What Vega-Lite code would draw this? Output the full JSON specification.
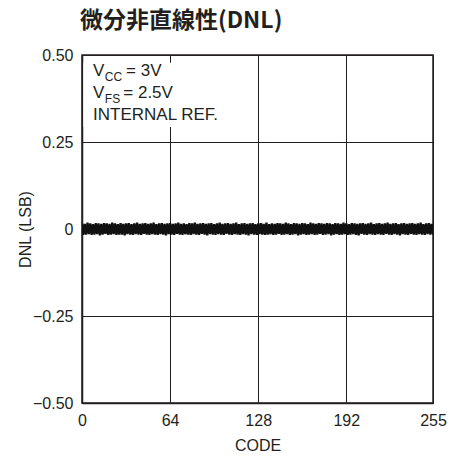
{
  "$schema": "https://vega.github.io/schema/vega-lite/v6.json",
  "autosize": "none",
  "width": 351,
  "height": 348,
  "padding": {"left": 82, "top": 55, "right": 18, "bottom": 60},
  "background": "white",
  "title": {"text": "微分非直線性(DNL)", "font": "Noto Sans CJK JP", "fontWeight": "bold", "fontSize": 23, "color": "#231f20", "anchor": "start", "frame": "group", "offset": 14, "dx": -2},
  "config": {
    "view": {"stroke": "#231f20", "strokeWidth": 1.5},
    "axis": {"labelFont": "Liberation Sans", "labelFontSize": 16, "labelColor": "#231f20", "titleFont": "Liberation Sans", "titleFontSize": 16, "titleFontWeight": "normal", "titleColor": "#231f20", "ticks": false, "grid": true, "gridColor": "#231f20", "gridOpacity": 1, "gridWidth": 1, "domainColor": "#231f20", "domainWidth": 1.5, "labelFlush": false}
  },
  "layer": [
    {
      "data": {"values": [{}]},
      "mark": {"type": "rect", "fill": "white", "stroke": null},
      "encoding": {
        "x": {"datum": 1, "type": "quantitative", "scale": {"domain": [0, 255], "nice": false, "zero": false}},
        "x2": {"datum": 66},
        "y": {"datum": 0.478, "type": "quantitative", "scale": {"domain": [-0.5, 0.5], "nice": false}},
        "y2": {"datum": 0.293}
      }
    },
    {
      "data": {"values": [
{"c":0,"d":0.016},{"c":1,"d":-0.017},{"c":2,"d":0.015},{"c":3,"d":-0.016},{"c":4,"d":0.018},{"c":5,"d":-0.015},{"c":6,"d":0.016},{"c":7,"d":-0.017},{"c":8,"d":0.014},{"c":9,"d":-0.016},{"c":10,"d":0.017},{"c":11,"d":-0.015},{"c":12,"d":0.016},{"c":13,"d":-0.018},{"c":14,"d":0.015},{"c":15,"d":-0.016},
{"c":16,"d":0.017},{"c":17,"d":-0.014},{"c":18,"d":0.016},{"c":19,"d":-0.017},{"c":20,"d":0.015},{"c":21,"d":-0.016},{"c":22,"d":0.018},{"c":23,"d":-0.015},{"c":24,"d":0.016},{"c":25,"d":-0.017},{"c":26,"d":0.014},{"c":27,"d":-0.016},{"c":28,"d":0.017},{"c":29,"d":-0.016},{"c":30,"d":0.015},{"c":31,"d":-0.018},
{"c":32,"d":0.016},{"c":33,"d":-0.015},{"c":34,"d":0.017},{"c":35,"d":-0.016},{"c":36,"d":0.014},{"c":37,"d":-0.017},{"c":38,"d":0.016},{"c":39,"d":-0.015},{"c":40,"d":0.018},{"c":41,"d":-0.016},{"c":42,"d":0.015},{"c":43,"d":-0.017},{"c":44,"d":0.016},{"c":45,"d":-0.014},{"c":46,"d":0.017},{"c":47,"d":-0.016},
{"c":48,"d":0.015},{"c":49,"d":-0.017},{"c":50,"d":0.016},{"c":51,"d":-0.015},{"c":52,"d":0.018},{"c":53,"d":-0.016},{"c":54,"d":0.014},{"c":55,"d":-0.017},{"c":56,"d":0.016},{"c":57,"d":-0.015},{"c":58,"d":0.017},{"c":59,"d":-0.016},{"c":60,"d":0.015},{"c":61,"d":-0.018},{"c":62,"d":0.016},{"c":63,"d":-0.015},
{"c":64,"d":0.017},{"c":65,"d":-0.016},{"c":66,"d":0.015},{"c":67,"d":-0.017},{"c":68,"d":0.016},{"c":69,"d":-0.014},{"c":70,"d":0.018},{"c":71,"d":-0.016},{"c":72,"d":0.015},{"c":73,"d":-0.017},{"c":74,"d":0.016},{"c":75,"d":-0.015},{"c":76,"d":0.014},{"c":77,"d":-0.016},{"c":78,"d":0.017},{"c":79,"d":-0.017},
{"c":80,"d":0.016},{"c":81,"d":-0.015},{"c":82,"d":0.018},{"c":83,"d":-0.016},{"c":84,"d":0.015},{"c":85,"d":-0.017},{"c":86,"d":0.016},{"c":87,"d":-0.014},{"c":88,"d":0.017},{"c":89,"d":-0.016},{"c":90,"d":0.015},{"c":91,"d":-0.018},{"c":92,"d":0.016},{"c":93,"d":-0.015},{"c":94,"d":0.017},{"c":95,"d":-0.016},
{"c":96,"d":0.014},{"c":97,"d":-0.017},{"c":98,"d":0.016},{"c":99,"d":-0.015},{"c":100,"d":0.018},{"c":101,"d":-0.016},{"c":102,"d":0.015},{"c":103,"d":-0.017},{"c":104,"d":0.016},{"c":105,"d":-0.014},{"c":106,"d":0.017},{"c":107,"d":-0.016},{"c":108,"d":0.015},{"c":109,"d":-0.017},{"c":110,"d":0.016},{"c":111,"d":-0.015},
{"c":112,"d":0.018},{"c":113,"d":-0.016},{"c":114,"d":0.014},{"c":115,"d":-0.017},{"c":116,"d":0.016},{"c":117,"d":-0.015},{"c":118,"d":0.017},{"c":119,"d":-0.016},{"c":120,"d":0.015},{"c":121,"d":-0.018},{"c":122,"d":0.016},{"c":123,"d":-0.015},{"c":124,"d":0.017},{"c":125,"d":-0.016},{"c":126,"d":0.014},{"c":127,"d":-0.017},
{"c":128,"d":0.016},{"c":129,"d":-0.015},{"c":130,"d":0.017},{"c":131,"d":-0.016},{"c":132,"d":0.015},{"c":133,"d":-0.017},{"c":134,"d":0.018},{"c":135,"d":-0.016},{"c":136,"d":0.014},{"c":137,"d":-0.015},{"c":138,"d":0.016},{"c":139,"d":-0.017},{"c":140,"d":0.015},{"c":141,"d":-0.016},{"c":142,"d":0.017},{"c":143,"d":-0.014},
{"c":144,"d":0.016},{"c":145,"d":-0.017},{"c":146,"d":0.015},{"c":147,"d":-0.016},{"c":148,"d":0.018},{"c":149,"d":-0.015},{"c":150,"d":0.016},{"c":151,"d":-0.017},{"c":152,"d":0.014},{"c":153,"d":-0.016},{"c":154,"d":0.017},{"c":155,"d":-0.015},{"c":156,"d":0.016},{"c":157,"d":-0.018},{"c":158,"d":0.015},{"c":159,"d":-0.016},
{"c":160,"d":0.017},{"c":161,"d":-0.015},{"c":162,"d":0.016},{"c":163,"d":-0.017},{"c":164,"d":0.014},{"c":165,"d":-0.016},{"c":166,"d":0.018},{"c":167,"d":-0.015},{"c":168,"d":0.016},{"c":169,"d":-0.017},{"c":170,"d":0.015},{"c":171,"d":-0.016},{"c":172,"d":0.017},{"c":173,"d":-0.014},{"c":174,"d":0.016},{"c":175,"d":-0.017},
{"c":176,"d":0.015},{"c":177,"d":-0.016},{"c":178,"d":0.017},{"c":179,"d":-0.015},{"c":180,"d":0.016},{"c":181,"d":-0.018},{"c":182,"d":0.014},{"c":183,"d":-0.016},{"c":184,"d":0.017},{"c":185,"d":-0.015},{"c":186,"d":0.016},{"c":187,"d":-0.017},{"c":188,"d":0.015},{"c":189,"d":-0.016},{"c":190,"d":0.018},{"c":191,"d":-0.015},
{"c":192,"d":0.016},{"c":193,"d":-0.017},{"c":194,"d":0.014},{"c":195,"d":-0.016},{"c":196,"d":0.017},{"c":197,"d":-0.015},{"c":198,"d":0.016},{"c":199,"d":-0.017},{"c":200,"d":0.015},{"c":201,"d":-0.018},{"c":202,"d":0.016},{"c":203,"d":-0.014},{"c":204,"d":0.017},{"c":205,"d":-0.016},{"c":206,"d":0.015},{"c":207,"d":-0.017},
{"c":208,"d":0.016},{"c":209,"d":-0.015},{"c":210,"d":0.018},{"c":211,"d":-0.016},{"c":212,"d":0.014},{"c":213,"d":-0.017},{"c":214,"d":0.016},{"c":215,"d":-0.015},{"c":216,"d":0.017},{"c":217,"d":-0.016},{"c":218,"d":0.015},{"c":219,"d":-0.017},{"c":220,"d":0.016},{"c":221,"d":-0.014},{"c":222,"d":0.018},{"c":223,"d":-0.016},
{"c":224,"d":0.015},{"c":225,"d":-0.017},{"c":226,"d":0.016},{"c":227,"d":-0.015},{"c":228,"d":0.017},{"c":229,"d":-0.016},{"c":230,"d":0.014},{"c":231,"d":-0.018},{"c":232,"d":0.016},{"c":233,"d":-0.015},{"c":234,"d":0.017},{"c":235,"d":-0.016},{"c":236,"d":0.015},{"c":237,"d":-0.017},{"c":238,"d":0.016},{"c":239,"d":-0.014},
{"c":240,"d":0.017},{"c":241,"d":-0.016},{"c":242,"d":0.015},{"c":243,"d":-0.017},{"c":244,"d":0.016},{"c":245,"d":-0.015},{"c":246,"d":0.018},{"c":247,"d":-0.016},{"c":248,"d":0.014},{"c":249,"d":-0.017},{"c":250,"d":0.016},{"c":251,"d":-0.015},{"c":252,"d":0.017},{"c":253,"d":-0.016},{"c":254,"d":0.015},{"c":255,"d":-0.016}
      ]},
      "mark": {"type": "line", "stroke": "#111", "strokeWidth": 2.3, "clip": true},
      "encoding": {
        "x": {"field": "c", "type": "quantitative", "title": "CODE",
              "axis": {"values": [0, 64, 128, 192, 255], "labelPadding": 9, "titlePadding": 9}},
        "y": {"field": "d", "type": "quantitative", "title": "DNL (LSB)",
              "axis": {"values": [-0.5, -0.25, 0, 0.25, 0.5], "labelPadding": 9, "titlePadding": -1,
                       "labelExpr": "datum.value == 0 ? '0' : replace(format(datum.value, '.2f'), '-', '–')"}}
      }
    },
    {"data": {"values": [{}]},
     "mark": {"type": "text", "text": "V", "align": "left", "baseline": "middle", "font": "Liberation Sans", "fontSize": 17, "fill": "#231f20"},
     "encoding": {"x": {"datum": 8}, "y": {"datum": 0.4526}}},
    {"data": {"values": [{}]},
     "mark": {"type": "text", "text": "CC", "align": "left", "baseline": "middle", "dy": 6, "font": "Liberation Sans", "fontSize": 12, "fill": "#231f20"},
     "encoding": {"x": {"datum": 16.6}, "y": {"datum": 0.4526}}},
    {"data": {"values": [{}]},
     "mark": {"type": "text", "text": "= 3V", "align": "left", "baseline": "middle", "font": "Liberation Sans", "fontSize": 17, "fill": "#231f20"},
     "encoding": {"x": {"datum": 32}, "y": {"datum": 0.4526}}},
    {"data": {"values": [{}]},
     "mark": {"type": "text", "text": "V", "align": "left", "baseline": "middle", "font": "Liberation Sans", "fontSize": 17, "fill": "#231f20"},
     "encoding": {"x": {"datum": 8}, "y": {"datum": 0.392}}},
    {"data": {"values": [{}]},
     "mark": {"type": "text", "text": "FS", "align": "left", "baseline": "middle", "dy": 6, "font": "Liberation Sans", "fontSize": 12, "fill": "#231f20"},
     "encoding": {"x": {"datum": 16.6}, "y": {"datum": 0.392}}},
    {"data": {"values": [{}]},
     "mark": {"type": "text", "text": "= 2.5V", "align": "left", "baseline": "middle", "font": "Liberation Sans", "fontSize": 17, "fill": "#231f20"},
     "encoding": {"x": {"datum": 30}, "y": {"datum": 0.392}}},
    {"data": {"values": [{}]},
     "mark": {"type": "text", "text": "INTERNAL REF.", "align": "left", "baseline": "middle", "font": "Liberation Sans", "fontSize": 17, "fill": "#231f20"},
     "encoding": {"x": {"datum": 8}, "y": {"datum": 0.3276}}}
  ]
}
